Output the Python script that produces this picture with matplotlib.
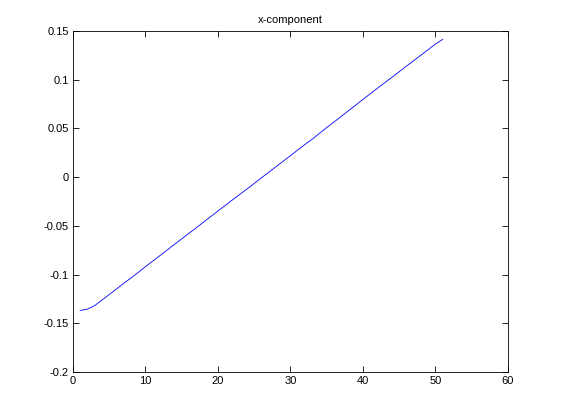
import matplotlib
matplotlib.use("Agg")
import matplotlib.pyplot as plt

x_vals = list(range(1, 52))
y_vals = [-0.1368, -0.1355, -0.1318, -0.1262, -0.1205, -0.1148, -0.1090, -0.1035,
          -0.0978, -0.0918, -0.0862, -0.0805, -0.0748, -0.0690, -0.0633, -0.0576,
          -0.0520, -0.0462, -0.0405, -0.0347, -0.0290, -0.0233, -0.0177, -0.0122,
          -0.0064, -0.0007, 0.0050, 0.0107, 0.0164, 0.0221, 0.0279, 0.0336,
          0.0390, 0.0450, 0.0510, 0.0566, 0.0624, 0.0682, 0.0740, 0.0799,
          0.0856, 0.0913, 0.0970, 0.1026, 0.1083, 0.1140, 0.1197, 0.1253,
          0.1310, 0.1367, 0.1415]
x_ticks = [0, 10, 20, 30, 40, 50, 60]
y_ticks = [-0.2, -0.15, -0.1, -0.05, 0, 0.05, 0.1, 0.15]
y_labels = ["-0.2", "-0.15", "-0.1", "-0.05", "0", "0.05", "0.1", "0.15"]
title = "x-component"

plt.rcParams['font.family'] = ['Liberation Sans', 'DejaVu Sans']
fig = plt.figure(figsize=(5.61, 4.20), dpi=100)
ax = fig.add_axes([0.130, 0.1143, 0.7755, 0.8117])
ax.plot(x_vals, y_vals, color=(0, 0, 1), linewidth=0.6)
ax.set_xlim(0, 60)
ax.set_ylim(-0.2, 0.15)
ax.set_xticks(x_ticks)
ax.set_xticklabels([str(t) for t in x_ticks])
ax.set_yticks(y_ticks)
ax.set_yticklabels(y_labels)
ax.tick_params(direction='in', top=True, right=True, labelsize=8, length=4, width=0.6, pad=3)
for s in ax.spines.values():
    s.set_linewidth(0.6)
ax.set_title(title, fontsize=8, pad=6)
fig.savefig("out.png", dpi=100)
